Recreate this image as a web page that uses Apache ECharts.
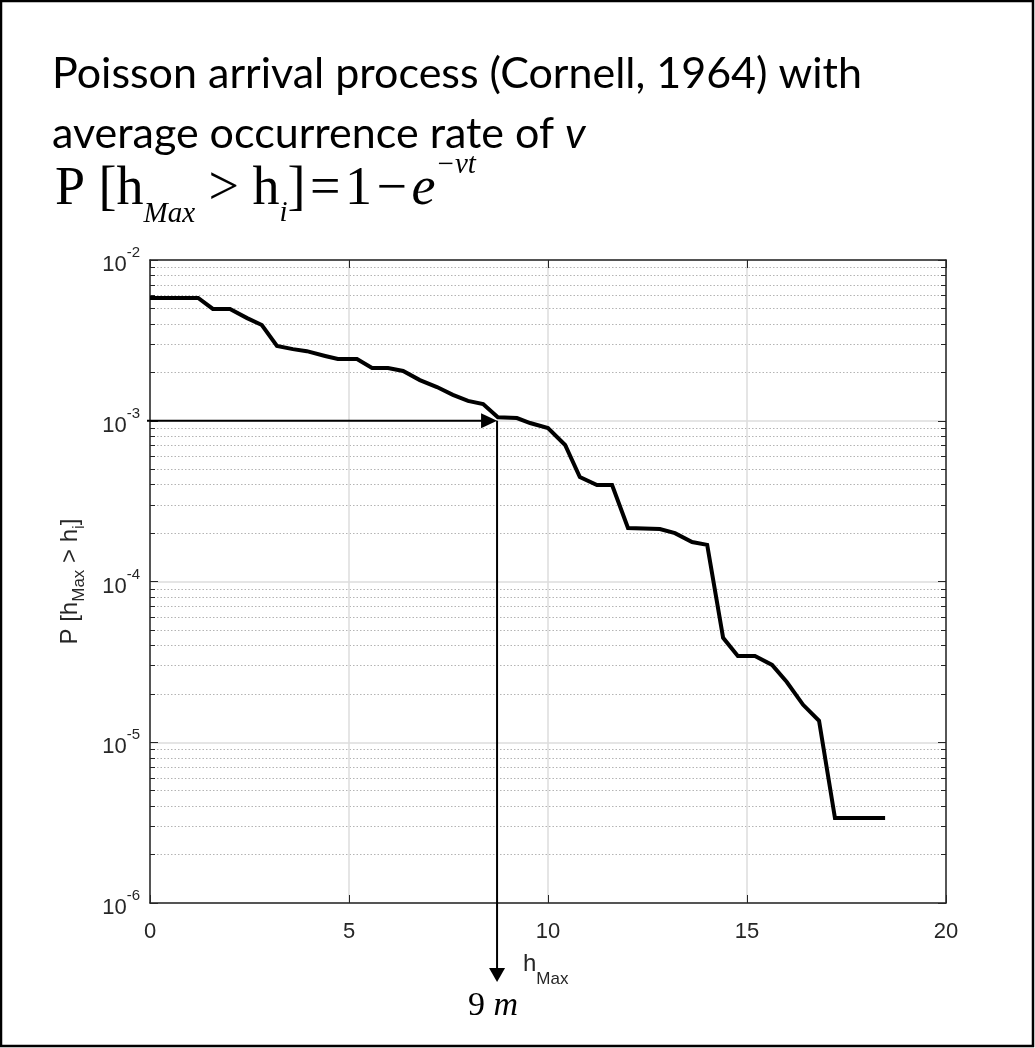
<!DOCTYPE html>
<html><head><meta charset="utf-8">
<script src="https://cdn.jsdelivr.net/npm/echarts@6/dist/echarts.min.js"></script>
<style>html,body{margin:0;padding:0;background:#fff}#c{width:1035px;height:1048px}</style>
</head><body><div id="c"></div>
<script>
// ---- data ----
const hMax = [0, 1.21, 1.58, 2.01, 2.44, 2.81, 3.19, 3.59, 3.94, 4.40,
  4.72, 5.20, 5.58, 5.98, 6.36, 6.78, 7.21, 7.61, 7.99, 8.37,
  8.74, 9.22, 9.55, 10.0, 10.43, 10.80, 11.23, 11.61, 12.01, 12.81,
  13.19, 13.62, 14.0, 14.40, 14.77, 15.20, 15.63, 16.0, 16.41, 16.81,
  17.21, 18.47];
const probExceed = [5.81e-3, 5.81e-3, 4.96e-3, 4.96e-3, 4.35e-3, 3.94e-3, 2.92e-3, 2.79e-3, 2.71e-3, 2.53e-3,
  2.42e-3, 2.42e-3, 2.13e-3, 2.13e-3, 2.04e-3, 1.79e-3, 1.62e-3, 1.45e-3, 1.33e-3, 1.27e-3,
  1.05e-3, 1.04e-3, 0.968e-3, 0.901e-3, 0.707e-3, 0.447e-3, 0.398e-3, 0.398e-3, 0.215e-3, 0.212e-3,
  0.200e-3, 0.176e-3, 0.169e-3, 4.46e-5, 3.44e-5, 3.44e-5, 3.03e-5, 2.37e-5, 1.71e-5, 1.36e-5,
  3.38e-6, 3.38e-6];
const xTicks = [0, 5, 10, 15, 20];
const yTickExponents = ['-6', '-5', '-4', '-3', '-2'];
const targetH = 8.72;      // 9 m design height
const targetP = 1e-3;      // target exceedance probability

const AX = '#262626';
const chart = echarts.init(document.getElementById('c'), null, {renderer: 'canvas'});

const seriesData = hMax.map((h, i) => [h, probExceed[i]]);

const yLabelRich = {
  b: {fontSize: 22, fontFamily: 'Liberation Sans', color: AX, padding: [10, 0, 0, 0]},
  s: {fontSize: 15, fontFamily: 'Liberation Sans', color: AX, padding: [0, 0, 14, 0]}
};

chart.setOption({
  animation: false,
  backgroundColor: '#fff',
  grid: {left: 150, top: 260, right: 89, bottom: 145, containLabel: false},
  xAxis: [{
    type: 'value', min: xTicks[0], max: xTicks[xTicks.length - 1], interval: 5, position: 'bottom',
    axisLine: {show: true, onZero: false, lineStyle: {color: AX, width: 1.5}},
    axisTick: {show: true, inside: true, length: 8, lineStyle: {color: AX, width: 1}},
    axisLabel: {fontSize: 22, fontFamily: 'Liberation Sans', color: AX, margin: 18,
      formatter: v => String(v)},
    splitLine: {show: true, lineStyle: {color: '#dcdcdc', width: 1.5}}
  }, {
    type: 'value', min: 0, max: 20, interval: 5, position: 'top',
    axisLine: {show: true, onZero: false, lineStyle: {color: AX, width: 1.5}},
    axisTick: {show: true, inside: true, length: 8, lineStyle: {color: AX, width: 1}},
    axisLabel: {show: false}, splitLine: {show: false}
  }],
  yAxis: [{
    type: 'log', logBase: 10, min: 1e-6, max: 1e-2, position: 'left',
    axisLine: {show: true, onZero: false, lineStyle: {color: AX, width: 1.5}},
    axisTick: {show: true, inside: true, length: 8, lineStyle: {color: AX, width: 1}},
    minorTick: {show: true, splitNumber: 9, length: 5, lineStyle: {color: AX, width: 1}},
    axisLabel: {margin: 10, formatter: v => {
      const e = Math.round(Math.log10(v));
      return '{b|10}{s|' + yTickExponents[e + 6] + '}';
    }, rich: yLabelRich},
    splitLine: {show: true, lineStyle: {color: '#dcdcdc', width: 1.5}},
    minorSplitLine: {show: true, lineStyle: {color: '#b4b4b4', width: 1, type: [1.5, 2]}},
    name: '{a|P [h}{sub|Max}{a| > h}{sub|i}{a|]}',
    nameLocation: 'middle', nameRotate: 90, nameGap: 62,
    nameTextStyle: {rich: {
      a: {fontSize: 24, fontFamily: 'Liberation Sans', color: AX},
      sub: {fontSize: 17, fontFamily: 'Liberation Sans', color: AX, padding: [18, 0, 0, 0]}
    }}
  }, {
    type: 'log', logBase: 10, min: 1e-6, max: 1e-2, position: 'right',
    axisLine: {show: true, onZero: false, lineStyle: {color: AX, width: 1.5}},
    axisTick: {show: true, inside: true, length: 8, lineStyle: {color: AX, width: 1}},
    minorTick: {show: true, splitNumber: 9, length: 5, lineStyle: {color: AX, width: 1}},
    axisLabel: {show: false}, splitLine: {show: false}, minorSplitLine: {show: false}
  }],
  series: [{
    type: 'line', xAxisIndex: 0, yAxisIndex: 0, data: seriesData,
    symbol: 'none', clip: false,
    lineStyle: {color: '#000', width: 4, join: 'miter'}, z: 5
  }]
});

// annotations placed via the chart's own scales
const pt = (h, p) => chart.convertToPixel({xAxisIndex: 0, yAxisIndex: 0}, [h, p]);
const pAxis = pt(0, targetP);
const pTarget = pt(targetH, targetP);
const pBottomAxis = pt(targetH, 1e-6);
const tipY = pBottomAxis[1] + 79;
const yA = pTarget[1];
const xA = pTarget[0];

chart.setOption({
  graphic: [
    {type: 'rect', shape: {x: 1, y: 1, width: 1032, height: 1045}, style: {fill: 'none', stroke: '#000', lineWidth: 2.5}, z: 100},
    {type: 'text', x: 52, y: 74, style: {text: 'Poisson arrival process (Cornell, 1964) with',
      font: '43px Lato', fill: '#000', verticalAlign: 'middle'}},
    {type: 'text', x: 52, y: 134, style: {text: '{n|average occurrence rate of }{i|v}',
      verticalAlign: 'middle', rich: {
        n: {font: '43px Lato', fill: '#000'},
        i: {font: 'italic 43px Lato', fill: '#000'}
      }}},
    {type: 'text', x: 55, y: 190, style: {
      text: '{a|P [h}{sub|Max}{a| > h}{isub|i}{a|]}{sp| }{a|=}{sp| }{a|1}{sp| }{a|\u2212}{sp| }{ie|e}{sup|\u2212\u03bdt}',
      verticalAlign: 'middle', rich: {
        a: {font: '54px "Liberation Serif"', fill: '#000'},
        sp: {font: '18px "Liberation Serif"', fill: '#000'},
        ie: {font: 'italic 54px "Liberation Serif"', fill: '#000'},
        sub: {font: 'italic 29px "Liberation Serif"', fill: '#000', padding: [48, 0, 0, 0]},
        isub: {font: 'italic 29px "Liberation Serif"', fill: '#000', padding: [46, 0, 0, 0]},
        sup: {font: 'italic 29px "Liberation Serif"', fill: '#000', padding: [0, 0, 50, 0]}
      }}},
    {type: 'text', x: 523, y: 964, style: {text: '{a|h}{s|Max}', verticalAlign: 'middle', rich: {
      a: {fontSize: 24, fontFamily: 'Liberation Sans', fill: AX},
      s: {fontSize: 17, fontFamily: 'Liberation Sans', fill: AX, padding: [30, 0, 0, 0]}
    }}},
    {type: 'text', x: 468, y: 1006, style: {text: '{a|9 }{i|m}', verticalAlign: 'middle', rich: {
      a: {font: '34px "Liberation Serif"', fill: '#000'},
      i: {font: 'italic 34px "Liberation Serif"', fill: '#000'}
    }}},
    // horizontal arrow at target probability
    {type: 'line', shape: {x1: pAxis[0] - 3, y1: yA, x2: xA - 14, y2: yA}, style: {stroke: '#000', lineWidth: 2}, z: 50},
    {type: 'polygon', shape: {points: [[xA - 16, yA - 7.5], [xA, yA], [xA - 16, yA + 7.5]]}, style: {fill: '#000'}, z: 50},
    // vertical arrow down to design height
    {type: 'line', shape: {x1: xA, y1: yA, x2: xA, y2: tipY - 12}, style: {stroke: '#000', lineWidth: 2}, z: 50},
    {type: 'polygon', shape: {points: [[xA - 8, tipY - 14], [xA + 8, tipY - 14], [xA, tipY]]}, style: {fill: '#000'}, z: 50}
  ]
});
</script></body></html>
